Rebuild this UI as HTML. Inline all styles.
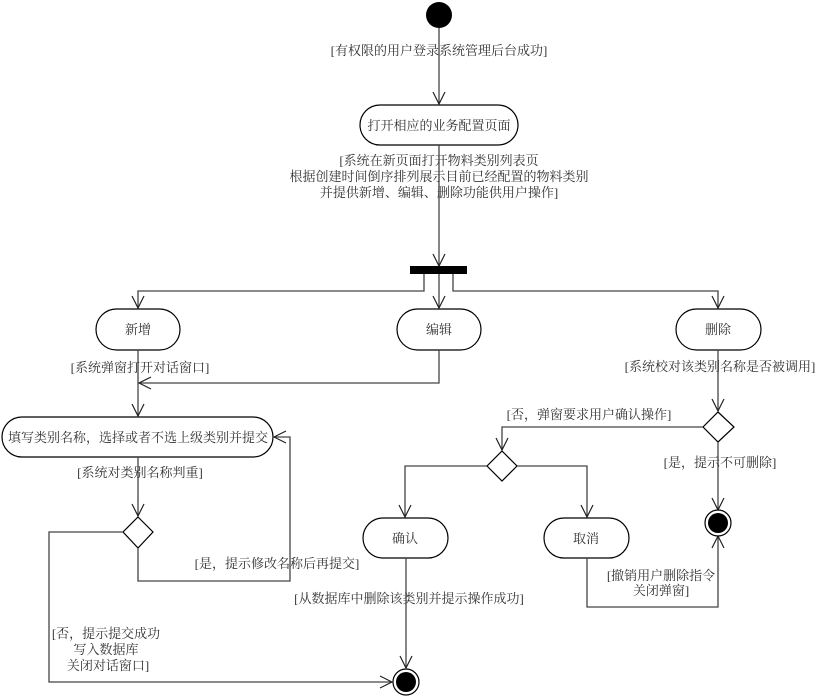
<!DOCTYPE html>
<html><head><meta charset="utf-8"><style>
html,body{margin:0;padding:0;background:#fff;}
svg{display:block;}
text{font-family:"Liberation Serif","Noto Serif CJK SC","Noto Sans CJK SC",serif;font-size:13px;fill:#333;}
.l{stroke:#444;stroke-width:1.3;fill:none;}
.b{stroke:#000;stroke-width:1.2;fill:#fff;}
</style></head><body>
<svg width="832" height="700" viewBox="0 0 832 700" xmlns="http://www.w3.org/2000/svg">
<defs>
<marker id="a" markerWidth="14" markerHeight="14" refX="13" refY="7" orient="auto" markerUnits="userSpaceOnUse">
<path d="M1,1 L13,7 L1,13" fill="none" stroke="#222" stroke-width="1.2"/>
</marker>
</defs>
<!-- start -->
<circle cx="439" cy="15" r="13" fill="#000"/>
<line class="l" x1="439" y1="28" x2="439" y2="104" marker-end="url(#a)"/>
<text x="439" y="55" text-anchor="middle">[有权限的用户登录系统管理后台成功]</text>
<rect class="b" x="360" y="105" width="158" height="40" rx="20"/>
<text x="439" y="130" text-anchor="middle">打开相应的业务配置页面</text>
<line class="l" x1="439" y1="145" x2="439" y2="266" marker-end="url(#a)"/>
<text x="439" y="165" text-anchor="middle">[系统在新页面打开物料类别列表页</text>
<text x="439" y="181" text-anchor="middle">根据创建时间倒序排列展示目前已经配置的物料类别</text>
<text x="439" y="197" text-anchor="middle">并提供新增、编辑、删除功能供用户操作]</text>
<rect x="410" y="266" width="57" height="8" fill="#000"/>
<!-- fork branches -->
<polyline class="l" points="424,274 424,291 138,291 138,308" marker-end="url(#a)"/>
<line class="l" x1="439" y1="274" x2="439" y2="308" marker-end="url(#a)"/>
<polyline class="l" points="453,274 453,291 718,291 718,308" marker-end="url(#a)"/>
<rect class="b" x="96" y="309" width="84" height="41" rx="20.5"/>
<text x="138" y="334" text-anchor="middle">新增</text>
<rect class="b" x="397" y="309" width="84" height="41" rx="20.5"/>
<text x="439" y="334" text-anchor="middle">编辑</text>
<rect class="b" x="676" y="309" width="85" height="41" rx="20.5"/>
<text x="718" y="334" text-anchor="middle">删除</text>
<!-- 新增/编辑 to 填写 -->
<line class="l" x1="138" y1="350" x2="138" y2="416" marker-end="url(#a)"/>
<polyline class="l" points="439,350 439,383 139,383" marker-end="url(#a)"/>
<text x="140" y="372" text-anchor="middle">[系统弹窗打开对话窗口]</text>
<rect class="b" x="2" y="417" width="271" height="40" rx="20"/>
<text x="138" y="442" text-anchor="middle">填写类别名称，选择或者不选上级类别并提交</text>
<line class="l" x1="138" y1="457" x2="138" y2="516" marker-end="url(#a)"/>
<text x="140" y="477" text-anchor="middle">[系统对类别名称判重]</text>
<polygon class="b" points="138,517 153,532 138,548 123,532"/>
<polyline class="l" points="138,548 138,581 290,581 290,437 274,437" marker-end="url(#a)"/>
<text x="277" y="568" text-anchor="middle">[是，提示修改名称后再提交]</text>
<polyline class="l" points="123,532 49,532 49,682 392,682" marker-end="url(#a)"/>
<text x="106" y="638" text-anchor="middle">[否，提示提交成功</text>
<text x="106" y="654" text-anchor="middle">写入数据库</text>
<text x="108" y="670" text-anchor="middle">关闭对话窗口]</text>
<!-- end 1 -->
<circle cx="406" cy="682" r="13" fill="#fff" stroke="#000" stroke-width="1.2"/>
<circle cx="406" cy="682" r="10" fill="#000"/>
<!-- delete branch -->
<line class="l" x1="718" y1="350" x2="718" y2="411" marker-end="url(#a)"/>
<text x="720" y="371" text-anchor="middle">[系统校对该类别名称是否被调用]</text>
<polygon class="b" points="718,412 734,427 718,442 703,427"/>
<polyline class="l" points="703,427 502,427 502,450" marker-end="url(#a)"/>
<text x="589" y="419" text-anchor="middle">[否，弹窗要求用户确认操作]</text>
<polygon class="b" points="502,451 517,466 502,481 487,466"/>
<line class="l" x1="718" y1="442" x2="718" y2="510" marker-end="url(#a)"/>
<text x="720" y="467" text-anchor="middle">[是，提示不可删除]</text>
<polyline class="l" points="487,466 405,466 405,517" marker-end="url(#a)"/>
<polyline class="l" points="517,466 587,466 587,517" marker-end="url(#a)"/>
<rect class="b" x="363" y="518" width="85" height="40" rx="20"/>
<text x="405" y="543" text-anchor="middle">确认</text>
<rect class="b" x="544" y="518" width="85" height="40" rx="20"/>
<text x="586" y="543" text-anchor="middle">取消</text>
<line class="l" x1="406" y1="558" x2="406" y2="668" marker-end="url(#a)"/>
<text x="409" y="603" text-anchor="middle">[从数据库中删除该类别并提示操作成功]</text>
<polyline class="l" points="587,558 587,607 718,607 718,536" marker-end="url(#a)"/>
<text x="661" y="580" text-anchor="middle">[撤销用户删除指令</text>
<text x="661" y="595" text-anchor="middle">关闭弹窗]</text>
<circle cx="718" cy="523" r="13" fill="#fff" stroke="#000" stroke-width="1.2"/>
<circle cx="718" cy="523" r="10" fill="#000"/>
</svg>
</body></html>
